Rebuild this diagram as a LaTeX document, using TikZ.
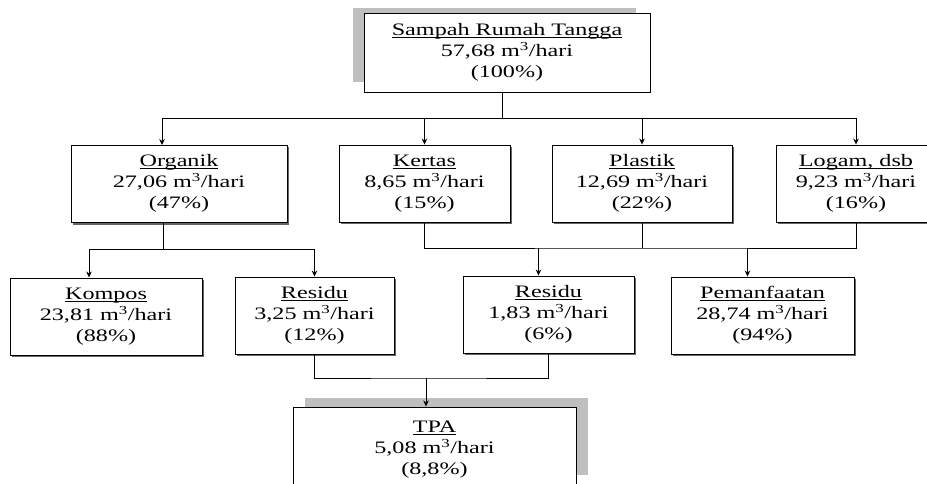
\documentclass[tikz,border=0pt]{standalone}
\usepackage{fontspec}
\setmainfont{Liberation Serif}[FakeStretch=1.38]
\usepackage{tikz}
\usetikzlibrary{arrows.meta, positioning, shadows}

\newcommand{\boxhead}[1]{\underline{\smash{#1}}\vphantom{A}}

\tikzset{
  flowbox/.style={draw, fill=white, align=center, inner sep=0pt, minimum height=77pt,
    font=\fontsize{17.5}{21}\selectfont,
    drop shadow={shadow xshift=2pt, shadow yshift=-2pt, fill=black!60, opacity=1}},
  mainbox/.style={draw, fill=white, align=center, inner sep=0pt,
    font=\fontsize{17.5}{21}\selectfont},
  arrowline/.style={-{Stealth[length=6pt,width=5.5pt]}}
}

\begin{document}
\begin{tikzpicture}[x=1pt, y=-1pt, line width=0.9pt]
        \useasboundingbox (0,0) rectangle (927,484);
        % grey backing of the source and landfill boxes
        \fill[black!25] (353,8) rectangle (636,82);
        \fill[black!25] (305,398) rectangle (588,475);

        % Source
        \node[mainbox, minimum width=286pt, minimum height=79pt] (rumah) at (507,52.5)
            {\boxhead{Sampah Rumah Tangga}\\57,68 m\textsuperscript{3}/hari\\(100\%)};

        % Composition row
        \node[flowbox, minimum width=216pt] (organik) at (179,184)
            {\boxhead{Organik}\\27,06 m\textsuperscript{3}/hari\\(47\%)};
        \node[flowbox, minimum width=171pt] (kertas) at (424.5,183.5)
            {\boxhead{Kertas}\\8,65 m\textsuperscript{3}/hari\\(15\%)};
        \node[flowbox, minimum width=180pt] (plastik) at (642,183.5)
            {\boxhead{Plastik}\\12,69 m\textsuperscript{3}/hari\\(22\%)};
        \node[flowbox, minimum width=160pt] (logam) at (856,183.5)
            {\boxhead{Logam, dsb}\\9,23 m\textsuperscript{3}/hari\\(16\%)};

        % Processing row
        \node[flowbox, minimum width=192pt] (kompos) at (106,316.5)
            {\boxhead{Kompos}\\23,81 m\textsuperscript{3}/hari\\(88\%)};
        \node[flowbox, minimum width=159pt] (residuA) at (314.5,315.5)
            {\boxhead{Residu}\\3,25 m\textsuperscript{3}/hari\\(12\%)};
        \node[flowbox, minimum width=171pt] (residuB) at (548.5,314.5)
            {\boxhead{Residu}\\1,83 m\textsuperscript{3}/hari\\(6\%)};
        \node[flowbox, minimum width=183pt] (manfaat) at (762.5,315.5)
            {\boxhead{Pemanfaatan}\\28,74 m\textsuperscript{3}/hari\\(94\%)};

        % Landfill
        \node[mainbox, minimum width=283pt, minimum height=86pt] (tpa) at (434.5,450)
            {\boxhead{TPA}\\5,08 m\textsuperscript{3}/hari\\(8,8\%)};

        % Source to composition
        \coordinate (splitA) at (502,118);
        \draw (rumah.south -| splitA) -- (splitA);
        \draw[arrowline] (splitA) -| ([xshift=-17pt]organik.north);
        \draw[arrowline] (splitA) -| (kertas);
        \draw[arrowline] (splitA) -| (plastik);
        \draw[arrowline] (splitA) -| (logam);

        % Organik split
        \coordinate (splitB) at (163,249);
        \draw ([xshift=-16pt]organik.south) -- (splitB);
        \draw[arrowline] (splitB) -| ([xshift=-17pt]kompos.north);
        \draw[arrowline] (splitB) -| (residuA);

        % Kertas, plastik, logam merge
        \coordinate (mergeA) at (643,248);
        \draw (kertas) |- (mergeA) -| (logam);
        \draw (plastik) -- (plastik |- mergeA);
        \draw[arrowline] ([xshift=-10pt]residuB.north |- mergeA) -- ([xshift=-10pt]residuB.north);
        \draw[arrowline] ([xshift=-15pt]manfaat.north |- mergeA) -- ([xshift=-15pt]manfaat.north);

        % Residu to TPA
        \coordinate (mergeB) at (426,378);
        \draw (residuA) |- (mergeB) -| (residuB);
        \draw[arrowline] (mergeB) -- (mergeB |- tpa.north);
\end{tikzpicture}
\end{document}
